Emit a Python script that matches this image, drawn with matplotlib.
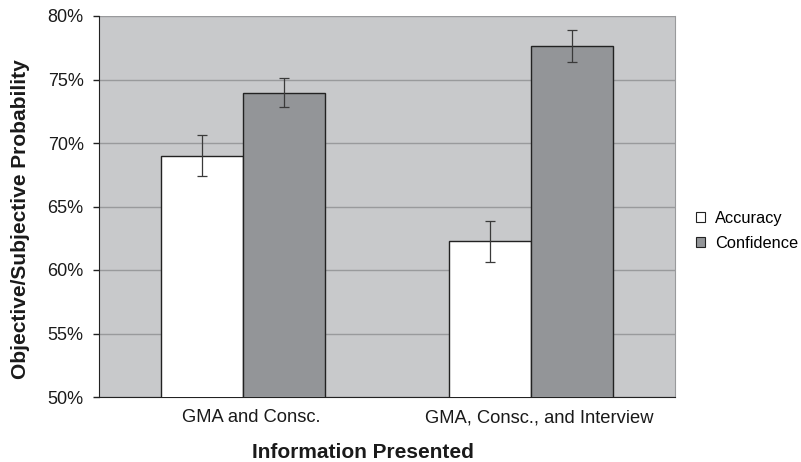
import matplotlib.pyplot as plt
import matplotlib.transforms as mtransforms
import numpy as np
from matplotlib.ticker import FuncFormatter

plt.rcParams["font.family"] = ["Liberation Sans", "DejaVu Sans"]

categories = ["GMA and Consc.", "GMA, Consc., and Interview"]
series = ["Accuracy", "Confidence"]
accuracy = [69.0, 62.25]
accuracy_err = [1.6, 1.6]
confidence = [73.95, 77.65]
confidence_err = [1.15, 1.25]
y_ticks = [50, 55, 60, 65, 70, 75, 80]

fig = plt.figure(figsize=(8.01, 4.62), dpi=100)
ax = fig.add_axes([99 / 801, 1 - 397 / 462, 576 / 801, 381 / 462])
ax.set_facecolor("#c8c9cb")

x = np.arange(len(categories))
width = 0.285
err_kw = dict(ecolor="#3a3a3a", capsize=3.5, elinewidth=0.9, capthick=0.9)

ax.bar(x - width / 2, accuracy, width, bottom=0, yerr=accuracy_err,
       color="white", edgecolor="#222222", linewidth=1.0, label=series[0],
       error_kw=err_kw, zorder=3)
ax.bar(x + width / 2, confidence, width, bottom=0, yerr=confidence_err,
       color="#939598", edgecolor="#222222", linewidth=1.0, label=series[1],
       error_kw=err_kw, zorder=3)

ax.set_xlim(-0.5, 1.5)
ax.set_ylim(50, 80)
ax.set_yticks(y_ticks)
ax.yaxis.set_major_formatter(FuncFormatter(lambda v, _: f"{v:.0f}%"))
ax.yaxis.grid(True, color="#999a9c", linewidth=1.0, zorder=0)
ax.set_axisbelow(True)

ax.set_xticks(x)
ax.set_xticklabels(categories, fontsize=13.2, color="#1a1a1a")
ax.tick_params(axis="x", length=0, pad=9)
ax.tick_params(axis="y", length=4, width=1, color="#222222", labelsize=13, pad=7,
               labelcolor="#1a1a1a")
# labels sit a little right of the bar groups in the original
shift = mtransforms.ScaledTranslation(8 / 100, 0, fig.dpi_scale_trans)
for lab in ax.get_xticklabels():
    lab.set_transform(lab.get_transform() + shift)

ax.spines["top"].set_visible(False)
ax.spines["right"].set_color("#999a9c")
ax.spines["left"].set_color("#222222")
ax.spines["bottom"].set_color("#222222")

fig.text(363 / 801, 1 - 452 / 462, "Information Presented", fontsize=15,
         fontweight="bold", ha="center", va="center", color="#1a1a1a")
fig.text(21 / 801, 1 - 219 / 462, "Objective/Subjective Probability", fontsize=15,
         fontweight="bold", ha="center", va="center", rotation=90, color="#1a1a1a")

leg = fig.legend(loc="center left", bbox_to_anchor=(685 / 801, 1 - 231 / 462),
                 frameon=False, fontsize=11.8, handlelength=0.55, handleheight=0.55,
                 handletextpad=0.6, labelspacing=0.6, borderaxespad=0.3)
for h in leg.legend_handles:
    h.set_linewidth(0.8)

fig.savefig("out.png", dpi=100)
